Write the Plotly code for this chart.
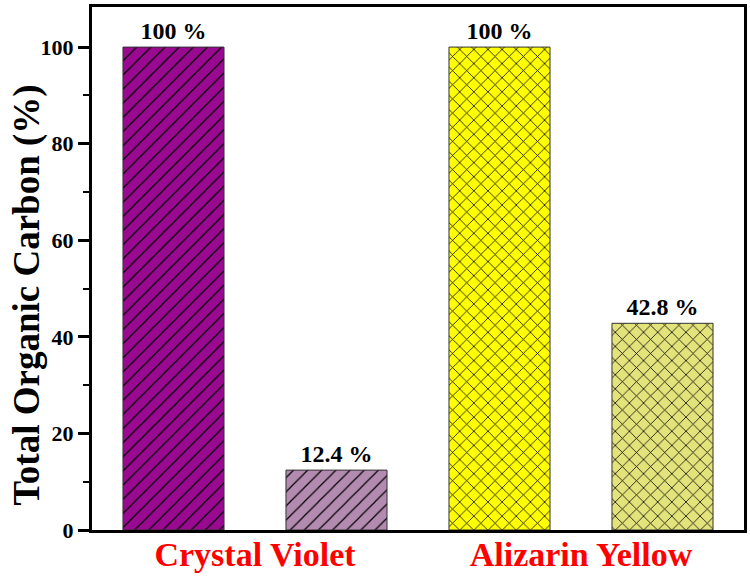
import plotly.graph_objects as go

categories = ["Crystal Violet", "Alizarin Yellow"]
initial_values = [100, 100]
final_values = [12.4, 42.8]
initial_labels = ["100 %", "100 %"]
final_labels = ["12.4 %", "42.8 %"]
y_ticks = [0, 20, 40, 60, 80, 100]
y_title = "Total Organic Carbon (%)"

FONT = "Liberation Serif"

initial_colors = ["#990a90", "#ffff00"]
final_colors = ["#b48bb0", "#e3e37c"]
shapes = ["/", "x"]
solidities = [0.12, 0.15]

fig = go.Figure()
for i, cat in enumerate(categories):
    for group, values, labels, colors in (
        ("initial", initial_values, initial_labels, initial_colors),
        ("final", final_values, final_labels, final_colors),
    ):
        fig.add_trace(go.Bar(
            x=[cat], y=[values[i]], text=[labels[i]],
            offsetgroup=group,
            textposition="outside", cliponaxis=False,
            textfont=dict(family=FONT, size=24, color="black", weight="bold"),
            marker=dict(
                color=colors[i],
                line=dict(color="#333333", width=1),
                pattern=dict(shape=shapes[i], fgcolor="black", bgcolor=colors[i],
                             fgopacity=1, size=10, solidity=solidities[i], fillmode="overlay"),
            ),
            showlegend=False,
        ))

fig.update_layout(
    width=750, height=577,
    margin=dict(l=92, r=6, t=7, b=47),
    paper_bgcolor="white", plot_bgcolor="white",
    barmode="group", bargap=0.0, bargroupgap=0.38,
    font=dict(family=FONT, color="black"),
    xaxis=dict(
        showline=True, linecolor="black", linewidth=3, mirror=True,
        ticks="", showgrid=False, automargin=False,
        tickfont=dict(family=FONT, size=34, color="red", weight="bold"),
        ticklabelstandoff=-8,
        range=[-0.5, 1.5],
    ),
    yaxis=dict(
        range=[0, 108.3], automargin=False,
        showline=True, linecolor="black", linewidth=3, mirror=True,
        ticks="outside", ticklen=11, tickwidth=3, tickcolor="black",
        tickvals=y_ticks,
        minor=dict(ticks="outside", ticklen=6, tickwidth=2, tickcolor="black", dtick=10),
        showgrid=False, zeroline=False,
        tickfont=dict(family=FONT, size=22, color="black", weight="bold"),
    ),
    annotations=[dict(
        text=y_title, textangle=-90, showarrow=False,
        xref="paper", yref="paper", x=-0.1, y=0.45,
        xanchor="center", yanchor="middle",
        font=dict(family=FONT, size=37, color="black", weight="bold"),
    )],
)

fig.write_html(
    "out.html",
    config={"displayModeBar": False},
    post_script="document.body.style.margin='0';document.body.style.overflow='hidden';",
)
